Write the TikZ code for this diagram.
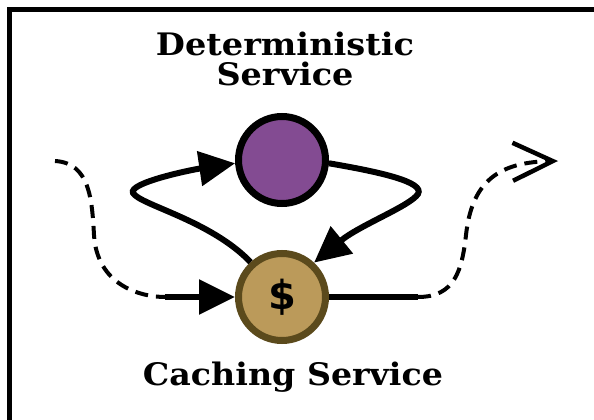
\documentclass[tikz,border=0pt]{standalone}
\usepackage{fontspec}
\usepackage{graphicx}
\usetikzlibrary{arrows.meta}
\newfontfamily\dollarfont{DejaVu Sans}
\newfontfamily\titlefont{DejaVu Serif}
\definecolor{detpurple}{HTML}{834B92}
\definecolor{cachegold}{HTML}{BB9A5A}
\definecolor{cacheedge}{HTML}{5B4A1C}
\begin{document}
\begin{tikzpicture}[x=1pt,y=-1pt,
  svc/.style={circle, minimum size=87pt, inner sep=0pt, line width=7pt},
  conn/.style={line width=6pt},
  flow/.style={line width=4pt, dash pattern=on 13pt off 8pt},
  tri/.style={-{Triangle[length=36pt,width=34pt]}},
  barb/.style={-{Straight Barb[length=40pt,width=38pt,line width=4.5pt]}},
  lbl/.style={font=\titlefont\bfseries\fontsize{31}{30}\selectfont, align=center, inner sep=0pt}]
\useasboundingbox (0,0) rectangle (594,420);
\draw[line width=5pt] (9.5,9.5) rectangle (640,460);
% nodes
\node[svc, draw=black, fill=detpurple] (det) at (282,160) {};
\node[svc, draw=cacheedge, fill=cachegold] (cache) at (282,297) {\dollarfont\bfseries\fontsize{40}{40}\selectfont\$};
\node[lbl, anchor=north] (dettitle) at (285,32) {\resizebox{258pt}{\height}{Deterministic}\\\resizebox{137pt}{\height}{Service}};
\node[lbl, anchor=base] (cachetitle) at (293,385) {\resizebox{300pt}{\height}{Caching Service}};
% coordinates
\coordinate (src) at (55,161);
\coordinate (in) at (165,297);
\coordinate (out) at (418,297);
\coordinate (sink) at (558,161);
% input
\draw[flow] (src) .. controls (90,163) and (92,200) .. (94,235) .. controls (97,285) and (140,297) .. (in);
\draw[conn, tri] (in) -- (cache.west);
% loop
\draw[conn, tri] (cache.132) .. controls (210,220) and (140,205) .. (133,193) .. controls (128,183) and (190,170) .. (det.184);
\draw[conn, tri] (det.356) .. controls (380,172) and (425,182) .. (418,194) .. controls (410,206) and (360,225) .. (cache.47);
% output
\draw[conn] (cache.east) -- (out);
\draw[flow, barb] (out) .. controls (455,297) and (462,270) .. (466,235) .. controls (472,180) and (500,162) .. (sink);
\end{tikzpicture}
\end{document}
